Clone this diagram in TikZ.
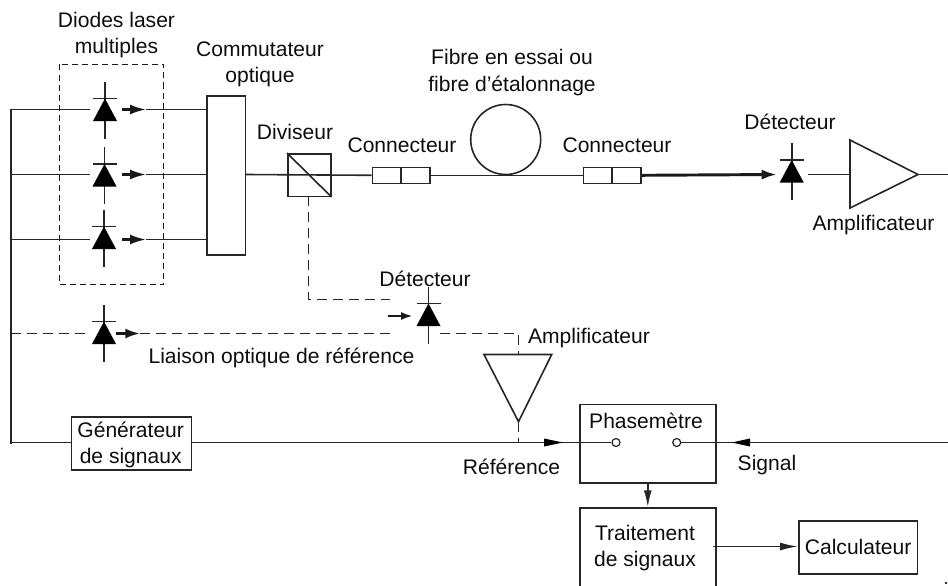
\documentclass[tikz,border=0pt]{standalone}
\usepackage{fontspec}
\setmainfont{Liberation Sans}
\usetikzlibrary{arrows.meta}
\tikzset{
  wire/.style={line width=1.2pt,black!85},
  dline/.style={line width=1.2pt,black!85,dash pattern=on 7.5pt off 4.5pt},
  box/.style={draw,line width=1.2pt,black!85,fill=white,inner sep=0pt,anchor=north west},
  lab/.style={font=\fontsize{15.8pt}{19.5pt}\selectfont,align=center,inner sep=0pt,text=black!95},
  flow/.style={line width=1.8pt,black!90,-{Latex[length=#1,width=7.5pt,sharp]}},
  tip/.style={-{Latex[length=#1,width=6pt,sharp]}},
}
\newcommand{\diode}[3]{% name, x, bar y
  \coordinate (#1) at (#2,#3+11);
  \draw[wire] (#2,#3-17) -- (#2,#3+40);
  \draw[wire] (#2-12,#3) -- (#2+12,#3);
  \fill[black] (#2,#3) -- (#2+12,#3+22.5) -- (#2-12,#3+22.5) -- cycle;
}
\begin{document}
\begin{tikzpicture}[x=0.75pt,y=-0.75pt]
\useasboundingbox (0,0) rectangle (948,585);
\clip (0,0) rectangle (948,585);
% bus
\coordinate (b1) at (10.5,109.5); \coordinate (b2) at (10.5,174.5); \coordinate (b3) at (10.5,239.5);
\coordinate (b4) at (10.5,333.5); \coordinate (b5) at (10.5,442.5);
\draw[wire,line width=1.5pt,line cap=rect] (b1) -- (b5);
% dashed enclosure
\draw[line width=.9pt,black!90,dash pattern=on 4.5pt off 3pt] (59.5,64.5) rectangle (163.5,284.5);
% boxes
\node[box,minimum width=38.5*0.75pt,minimum height=159*0.75pt] (comm) at (206,95) {};
\node[box,minimum width=43*0.75pt,minimum height=42.5*0.75pt] (split) at (287,153) {};
% diodes
\diode{d1}{105}{98.5}
\diode{d2}{104.5}{164}
\diode{d3}{104}{226.5}
\diode{d4}{104}{321.5}
\diode{d5}{428.5}{303.5}
\diode{d6}{791.7}{160}
% left wires
\coordinate (e1) at (90,109.5); \coordinate (e2) at (90,174.5); \coordinate (e3) at (90,239.5);
\draw[wire] (b1) -- (e1); \draw[wire] (b2) -- (e2); \draw[wire] (b3) -- (e3);
\coordinate (f1) at (146,109.5); \coordinate (f2) at (146,174.5); \coordinate (f3) at (146,239.5);
\coordinate (h1) at (122,109.5); \coordinate (h2) at (122,174.5); \coordinate (h3) at (122,239.5);
\draw[flow=12pt] (h1) -- (f1);
\draw[flow=12pt] (h2) -- (f2);
\draw[flow=12pt] (h3) -- (f3);
\draw[wire] (f1) -- (comm.west |- f1); \draw[wire] (f2) -- (comm.west |- f2); \draw[wire] (f3) -- (comm.west |- f3);
% main line
\node[box,minimum width=57.5*0.75pt,minimum height=16*0.75pt] (c1) at (371.5,166.5) {};
\node[box,minimum width=57.5*0.75pt,minimum height=16*0.75pt] (c2) at (582.7,166.5) {};
\draw[wire] (c1.north) -- (c1.south); \draw[wire] (c2.north) -- (c2.south);
\draw[wire] (comm.east |- f2) -- (c1.west);
\draw[wire] (split.north west) -- (split.south east);
\node[draw,circle,line width=1.2pt,black!85,minimum size=52.5pt,inner sep=0pt] (fibre) at (505.7,139.5) {};
\draw[wire] (c1.east) -- (c2.west);
\coordinate (d6in) at (777,174.5);
\draw[line width=2.2pt,black!90,-{Latex[length=11.5pt,width=7.5pt,sharp]}] (c2.east) -- (d6in);
\coordinate (amp1in) at (850,174.5); \coordinate (d6out) at (808,174.5);
\draw[wire] (d6out) -- (amp1in);
\coordinate (amp1out) at (918,174.5); \coordinate (r1) at (948,174.5);
\draw[wire,line join=miter] (850,140) -- (amp1out) -- (850,208) -- cycle;
\draw[wire] (amp1out) -- (r1);
% reference optical
\coordinate (g1) at (90,333.5); \coordinate (g0) at (116,333.5); \coordinate (g2) at (140,333.5); \coordinate (g3) at (390,333.5);
\draw[dline] (b4) -- (g1);
\draw[flow=11pt] (g0) -- (g2);
\draw[dline] (g2) -- (g3);
\coordinate (s0) at (308.5,196); \coordinate (s1) at (308.5,299.5); \coordinate (s2) at (390,299.5);
\draw[dline] (s0) -- (s1) -- (s2);
\coordinate (k1) at (388,316); \coordinate (k2) at (413,316);
\draw[line width=1.8pt,black!90,-{Latex[length=9pt,width=6pt,sharp]}] (k1) -- (k2);
% amp 2
\coordinate (d5out) at (440,333.5); \coordinate (a2c) at (518.5,333.5);
\coordinate (a2t) at (518.5,354.5); \coordinate (a2b) at (518.5,421.7); \coordinate (a2o) at (518.5,442.5);
\draw[dline] (d5out) -- (a2c) -- (a2t);
\draw[wire] (484,354.5) -- (551.7,354.5) -- (a2b) -- cycle;
\draw[dline] (a2b) -- (a2o);
% lower boxes
\node[box,minimum width=120*0.75pt,minimum height=53*0.75pt] (gen) at (70.7,416) {};
\node[box,minimum width=136*0.75pt,minimum height=78.5*0.75pt] (ph) at (579,403.7) {};
\node[box,minimum width=136*0.75pt,minimum height=90*0.75pt] (tr) at (579,507) {};
\node[box,minimum width=118.7*0.75pt,minimum height=53*0.75pt,lab] (calc) at (798,520) {Calculateur};
\draw[wire] (b5) -- (gen.west |- b5);
\node[draw,circle,line width=.9pt,black!85,minimum size=6pt,inner sep=0pt] (o1) at (616,442.5) {};
\node[draw,circle,line width=.9pt,black!85,minimum size=6pt,inner sep=0pt] (o2) at (676.7,442.5) {};
\draw[wire] (gen.east |- o1) -- (o1.west);
\fill[black] (563,442.5) -- (544,438.5) -- (544,446.5) -- cycle;
\coordinate (r2) at (948,442.5);
\draw[wire] (r2) -- (o2.east);
\fill[black] (731.7,442.5) -- (750,438.5) -- (750,446.5) -- cycle;
\draw[wire,tip=12.5pt] (ph.south) -- (tr.north);
\coordinate (tr1) at (713,546.5);
\draw[wire,tip=13.5pt] (tr1) -- (calc.west |- tr1);
\fill[black!80] (945,582) rectangle (947,584);
% labels
\node[lab] (tgen) at (130.7,444.5) {Générateur\\de signaux};
\node[lab] (tdl) at (116.5,35) {Diodes laser\\multiples};
\node[lab] (tcom) at (260,64.5) {Commutateur\\optique};
\node[lab] (tdiv) at (295,132) {Diviseur};
\node[lab] (tc1) at (402,145) {Connecteur};
\node[lab] (tc2) at (617,145) {Connecteur};
\node[lab,align=center] (tfib) at (512,72.5) {Fibre en essai ou\\[.7pt]fibre d’étalonnage};
\node[lab] (tdet1) at (790,122) {Détecteur};
\node[lab] (tamp1) at (873.5,225.5) {Amplificateur};
\node[lab] (tdet2) at (425,279) {Détecteur};
\node[lab] (tlia) at (281.5,357.5) {Liaison optique de référence};
\node[lab] (tamp2) at (589,338.5) {Amplificateur};
\node[lab] (tref) at (511.5,467) {Référence};
\node[lab] (tph) at (646,421) {Phasemètre};
\node[lab] (tsig) at (767,465) {Signal};
\node[lab] (ttr) at (645,548) {Traitement\\de signaux};
\end{tikzpicture}
\end{document}
